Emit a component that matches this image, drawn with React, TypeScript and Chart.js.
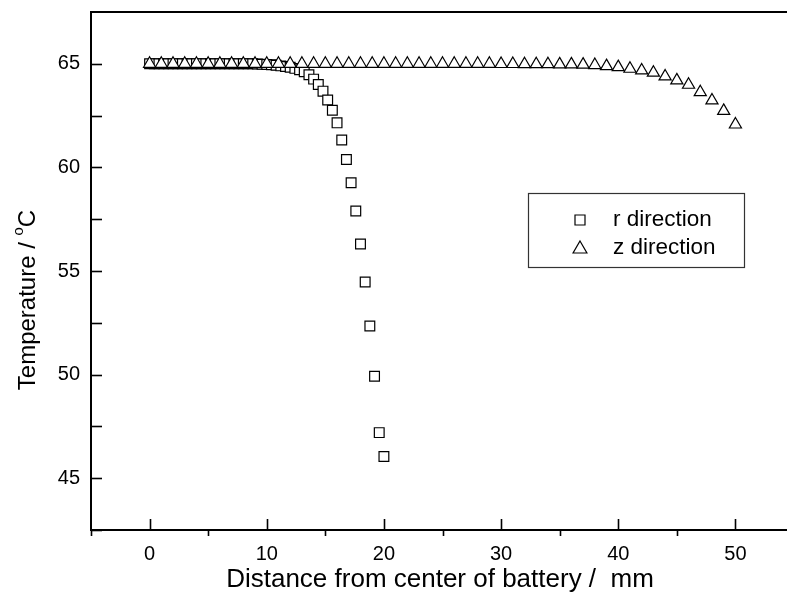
import React, { useEffect, useRef } from "react";
import { Chart, registerables } from "chart.js";

Chart.register(...registerables);

// Radial direction: distance (mm) and temperature (°C)
const rDistance = [
  0, 0.4, 0.8, 1.2, 1.6, 2.0, 2.4, 2.8, 3.2, 3.6, 4.0, 4.4, 4.8, 5.2, 5.6, 6.0, 6.4,
  6.8, 7.2, 7.6, 8.0, 8.4, 8.8, 9.2, 9.6, 10.0, 10.4, 10.8, 11.2, 11.6, 12.0, 12.4,
  12.8, 13.2, 13.6, 14.0, 14.4, 14.8, 15.2, 15.6, 16.0, 16.4, 16.8, 17.2, 17.6, 18.0,
  18.4, 18.8, 19.2, 19.6, 20.0,
];
const rTemperature = [
  65.0, 65.0, 65.0, 65.0, 65.0, 65.0, 65.0, 65.0, 65.0, 65.0, 65.0, 65.0, 65.0, 65.0,
  65.0, 65.0, 65.0, 65.0, 65.0, 65.0, 65.0, 65.0, 65.0, 64.99, 64.98, 64.97, 64.95,
  64.93, 64.9, 64.87, 64.83, 64.78, 64.71, 64.62, 64.47, 64.26, 64.0, 63.68, 63.25,
  62.76, 62.15, 61.32, 60.38, 59.26, 57.9, 56.3, 54.47, 52.35, 49.92, 47.2, 46.05,
];

// Axial direction: distance (mm) and temperature (°C)
const zDistance = [
  0, 1, 2, 3, 4, 5, 6, 7, 8, 9, 10, 11, 12, 13, 14, 15, 16, 17, 18, 19, 20, 21, 22,
  23, 24, 25, 26, 27, 28, 29, 30, 31, 32, 33, 34, 35, 36, 37, 38, 39, 40, 41, 42, 43,
  44, 45, 46, 47, 48, 49, 50,
];
const zTemperature = [
  65.0, 65.0, 65.0, 65.0, 65.0, 65.0, 65.0, 65.0, 65.0, 65.0, 65.0, 65.0, 65.0, 65.0,
  65.0, 65.0, 65.0, 65.0, 65.0, 65.0, 65.0, 65.0, 65.0, 65.0, 65.0, 65.0, 65.0, 65.0,
  65.0, 65.0, 64.99, 64.99, 64.98, 64.98, 64.98, 64.97, 64.97, 64.96, 64.94, 64.89,
  64.84, 64.76, 64.68, 64.57, 64.39, 64.2, 63.99, 63.63, 63.23, 62.73, 62.07,
];

const seriesLabels = ["r direction", "z direction"];
const xTitle = "Distance from center of battery /  mm";
const yTitleMain = "Temperature / ";
const yTitleSup = "o";
const yTitleUnit = "C";

const xRange = [-5, 55];
const yRange = [42.5, 67.5];
const xTickValues = [0, 10, 20, 30, 40, 50];
const xMinorTickValues = [-5, 5, 15, 25, 35, 45];
const yTickValues = [45, 50, 55, 60, 65];
const yMinorTickValues = [42.5, 47.5, 52.5, 57.5, 62.5];

const FONT = "'Liberation Sans', Arial, sans-serif";
const INK = "#000";

function drawSquare(ctx: CanvasRenderingContext2D, x: number, y: number, s: number) {
  ctx.beginPath();
  ctx.rect(x - s / 2, y - s / 2, s, s);
  ctx.fillStyle = "#fff";
  ctx.fill();
  ctx.stroke();
}

function drawTriangle(ctx: CanvasRenderingContext2D, x: number, y: number, r: number) {
  ctx.beginPath();
  ctx.moveTo(x, y - r);
  ctx.lineTo(x + 0.866 * r, y + 0.5 * r);
  ctx.lineTo(x - 0.866 * r, y + 0.5 * r);
  ctx.closePath();
  ctx.fillStyle = "#fff";
  ctx.fill();
  ctx.stroke();
}

// Frame, inward/outward tick marks, axis titles and the boxed legend
const decorations = {
  id: "decorations",
  afterDraw(chart: any) {
    const { ctx, chartArea: a, scales } = chart;
    const xs = scales.x;
    const ys = scales.y;
    ctx.save();
    ctx.strokeStyle = INK;
    ctx.lineCap = "butt";

    // top frame line
    ctx.lineWidth = 2;
    ctx.beginPath();
    ctx.moveTo(a.left - 1, a.top);
    ctx.lineTo(a.right + 2, a.top);
    ctx.stroke();

    ctx.lineWidth = 1.6;
    // x major ticks point up into the plot
    xTickValues.forEach((v) => {
      const px = Math.round(xs.getPixelForValue(v)) + 0.5;
      ctx.beginPath();
      ctx.moveTo(px, a.bottom);
      ctx.lineTo(px, a.bottom - 11);
      ctx.stroke();
    });
    // x minor ticks point down
    xMinorTickValues.forEach((v) => {
      const px = Math.round(xs.getPixelForValue(v)) + 0.5;
      ctx.beginPath();
      ctx.moveTo(px, a.bottom);
      ctx.lineTo(px, a.bottom + 6);
      ctx.stroke();
    });
    // y ticks point right into the plot
    yTickValues.concat(yMinorTickValues).forEach((v) => {
      const py = Math.round(ys.getPixelForValue(v)) + 0.5;
      ctx.beginPath();
      ctx.moveTo(a.left, py);
      ctx.lineTo(a.left + 11, py);
      ctx.stroke();
    });

    // axis titles
    ctx.fillStyle = INK;
    ctx.font = `26px ${FONT}`;
    ctx.textAlign = "center";
    ctx.textBaseline = "middle";
    ctx.fillText(xTitle, 440, 580);

    ctx.save();
    ctx.translate(28, 300);
    ctx.rotate(-Math.PI / 2);
    ctx.textAlign = "left";
    ctx.font = `24px ${FONT}`;
    const w1 = ctx.measureText(yTitleMain).width;
    const w3 = ctx.measureText(yTitleUnit).width;
    ctx.font = `15px ${FONT}`;
    const w2 = ctx.measureText(yTitleSup).width;
    const start = -(w1 + w2 + w3) / 2;
    ctx.font = `24px ${FONT}`;
    ctx.fillText(yTitleMain, start, 0);
    ctx.font = `15px ${FONT}`;
    ctx.fillText(yTitleSup, start + w1, -9);
    ctx.font = `24px ${FONT}`;
    ctx.fillText(yTitleUnit, start + w1 + w2, 0);
    ctx.restore();

    // legend box
    ctx.lineWidth = 1.2;
    ctx.strokeStyle = "#333";
    ctx.strokeRect(528.5, 193.5, 216, 74);
    ctx.strokeStyle = INK;
    ctx.lineWidth = 1.2;
    drawSquare(ctx, 580, 220, 10);
    drawTriangle(ctx, 580, 249, 8);
    ctx.fillStyle = INK;
    ctx.font = `22.5px ${FONT}`;
    ctx.textAlign = "left";
    ctx.textBaseline = "middle";
    ctx.fillText(seriesLabels[0], 613, 220);
    ctx.fillText(seriesLabels[1], 613, 248);

    ctx.restore();
  },
};

export default function App() {
  const canvasRef = useRef<HTMLCanvasElement | null>(null);

  useEffect(() => {
    const canvas = canvasRef.current;
    if (!canvas) return;

    const tickFont = { family: FONT, size: 20 };

    const chart = new Chart(canvas, {
      type: "scatter",
      data: {
        datasets: [
          {
            label: seriesLabels[0],
            data: rDistance.map((x, i) => ({ x, y: rTemperature[i] })),
            pointStyle: "rect",
            pointRadius: 6.9,
            pointBorderColor: INK,
            pointBackgroundColor: "#fff",
            pointBorderWidth: 1.2,
            showLine: false,
            order: 1,
          },
          {
            label: seriesLabels[1],
            data: zDistance.map((x, i) => ({ x, y: zTemperature[i] })),
            pointStyle: "triangle",
            pointRadius: 7,
            pointBorderColor: INK,
            pointBackgroundColor: "#fff",
            pointBorderWidth: 1.2,
            showLine: false,
            order: 0,
          },
        ],
      },
      options: {
        responsive: false,
        animation: false,
        events: [],
        layout: { padding: { top: 12, right: 18, bottom: 0, left: 0 } },
        plugins: {
          legend: { display: false },
          tooltip: { enabled: false },
        },
        scales: {
          x: {
            type: "linear",
            min: xRange[0],
            max: xRange[1],
            grid: { display: false, drawTicks: false },
            border: { display: true, color: INK, width: 2 },
            ticks: { color: INK, font: tickFont, padding: 12, maxRotation: 0 },
            afterBuildTicks: (scale: any) => {
              scale.ticks = xTickValues.map((value) => ({ value }));
            },
            afterFit: (scale: any) => {
              scale.height = 66;
              scale.paddingLeft = 0;
              scale.paddingRight = 0;
            },
          },
          y: {
            type: "linear",
            min: yRange[0],
            max: yRange[1],
            grid: { display: false, drawTicks: false },
            border: { display: true, color: INK, width: 2 },
            ticks: { color: INK, font: tickFont, padding: 11 },
            afterBuildTicks: (scale: any) => {
              scale.ticks = yTickValues.map((value) => ({ value }));
            },
            afterFit: (scale: any) => {
              scale.width = 91;
              scale.paddingTop = 0;
              scale.paddingBottom = 0;
            },
          },
        },
      },
      plugins: [decorations],
    });

    return () => chart.destroy();
  }, []);

  return (
    <div
      style={{
        position: "fixed",
        left: 0,
        top: 0,
        width: 787,
        height: 596,
        overflow: "hidden",
        background: "#fff",
      }}
    >
      <canvas ref={canvasRef} width={812} height={596} style={{ display: "block" }} />
    </div>
  );
}
